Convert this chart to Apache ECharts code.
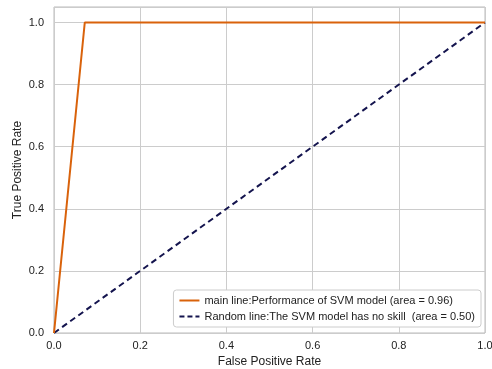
<!DOCTYPE html>
<html>
<head>
<meta charset="utf-8">
<script src="https://cdn.jsdelivr.net/npm/echarts@6/dist/echarts.min.js"></script>
<style>
    html, body { margin: 0; padding: 0; background: #fff; }
    #chart { width: 492px; height: 369px; }
</style>
</head>
<body>
<div id="chart"></div>
<script>
    // ROC curve points
    var svmFpr = [0.0, 0.0714, 1.0];
    var svmTpr = [0.0, 1.0, 1.0];
    var randFpr = [0.0, 1.0];
    var randTpr = [0.0, 1.0];
    var tickLabels = ['0.0', '0.2', '0.4', '0.6', '0.8', '1.0'];

    var svmName = 'main line:Performance of SVM model (area = 0.96)';
    var randName = 'Random line:The SVM model has no skill  (area = 0.50)';

    function pairs(xs, ys) {
        var out = [];
        for (var i = 0; i < xs.length; i++) out.push([xs[i], ys[i]]);
        return out;
    }

    var myChart = echarts.init(document.getElementById('chart'));
    var font = 'Liberation Sans, Arial, sans-serif';

    var option = {
        animation: false,
        textStyle: { fontFamily: font },
        grid: {
            left: 54, right: 7, top: 7, bottom: 36,
            outerBoundsMode: 'none', containLabel: false,
            show: true, borderColor: '#bbb', borderWidth: 1
        },
        legend: {
            orient: 'vertical',
            right: 11, bottom: 42,
            itemWidth: 20, itemHeight: 10, itemGap: 5,
            padding: [5, 6, 5, 6],
            backgroundColor: '#fff',
            borderColor: '#ccc', borderWidth: 1, borderRadius: 3,
            textStyle: { fontSize: 11, color: '#222', fontFamily: font },
            data: [
                { name: svmName, icon: 'path://M0,4 L20,4 L20,6 L0,6 Z' },
                { name: randName, icon: 'path://M0,4 L5,4 L5,6 L0,6 Z M8,4 L13,4 L13,6 L8,6 Z M16,4 L20,4 L20,6 L16,6 Z' }
            ]
        },
        xAxis: {
            type: 'value', min: 0, max: 1, interval: 0.2,
            name: 'False Positive Rate', nameLocation: 'middle', nameGap: 23,
            nameMoveOverlap: false,
            nameTextStyle: { fontSize: 12, color: '#222' },
            axisLine: { show: false }, axisTick: { show: false },
            axisLabel: { fontSize: 11, color: '#222', margin: 7,
                formatter: function (v) { return tickLabels[Math.round(v / 0.2)]; } },
            splitLine: { lineStyle: { color: '#ccc', width: 1 } }
        },
        yAxis: {
            type: 'value', min: 0, max: 1.05, interval: 0.2,
            name: 'True Positive Rate', nameLocation: 'middle', nameGap: 30,
            nameMoveOverlap: false,
            nameTextStyle: { fontSize: 12, color: '#222' },
            axisLine: { show: false }, axisTick: { show: false },
            axisLabel: { fontSize: 11, color: '#222', margin: 10, showMaxLabel: false,
                formatter: function (v) {
                    var i = Math.round(v / 0.2);
                    return Math.abs(v - i * 0.2) < 1e-6 ? tickLabels[i] : '';
                } },
            splitLine: { lineStyle: { color: '#ccc', width: 1 } }
        },
        series: [
            {
                name: svmName, type: 'line', data: pairs(svmFpr, svmTpr),
                showSymbol: false, color: '#d9620b',
                lineStyle: { width: 2, color: '#d9620b' }, z: 3
            },
            {
                name: randName, type: 'line', data: pairs(randFpr, randTpr),
                showSymbol: false, color: '#14144e',
                lineStyle: { width: 2, type: [6, 4], color: '#14144e' }, z: 2
            }
        ]
    };

    myChart.setOption(option);
</script>
</body>
</html>
